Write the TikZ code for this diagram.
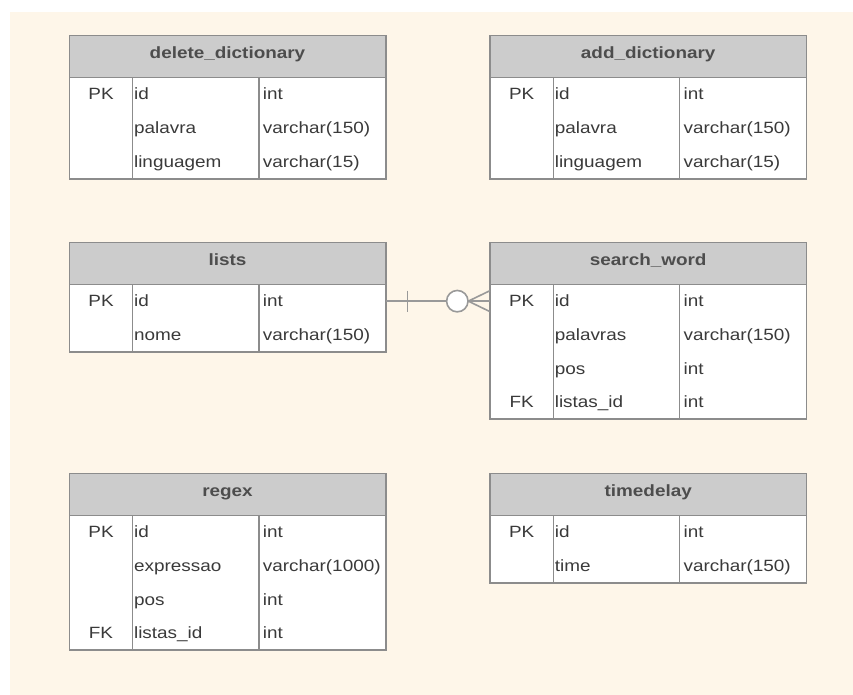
\documentclass[tikz,border=0pt]{standalone}
\usepackage{fontspec}
\setmainfont{Liberation Sans}[FakeStretch=1.16]
\definecolor{bgcream}{HTML}{FEF6E9}
\definecolor{hdrgray}{HTML}{CCCCCC}
\definecolor{linegray}{HTML}{8C8C8C}
\definecolor{conngray}{HTML}{999999}
\definecolor{txtgray}{HTML}{3A3A3A}
\definecolor{hdrtxt}{HTML}{4D4D4D}
\tikzset{
  tline/.style={draw=linegray, line width=1.5pt},
  tabframe/.style={draw=linegray, line width=1.6pt, inner sep=0pt, outer sep=0pt,
    minimum width=316.4pt, anchor=north west},
  hdrtext/.style={inner sep=0pt, text=hdrtxt, font=\fontsize{16.3pt}{19pt}\selectfont\bfseries, anchor=base},
  celltext/.style={inner sep=0pt, text=txtgray, font=\fontsize{16.3pt}{19pt}\selectfont},
  conn/.style={draw=conngray, line width=1.6pt},
}
\newcommand{\erdtable}[6]{%
  \pgfmathsetmacro{\tabH}{42+#5*33.7}%
  \fill[white] (#2,#3) rectangle ++(316.4,\tabH);
  \fill[hdrgray] (#2,#3) rectangle ++(316.4,42);
  \draw[tline] (#2,#3+42) -- ++(316.4,0);
  \draw[tline] (#2+63.4,#3+42) -- (#2+63.4,#3+\tabH);
  \draw[tline] (#2+189.7,#3+42) -- (#2+189.7,#3+\tabH);
  \node[tabframe, minimum height=\tabH pt] (#1) at (#2,#3) {};
  \node[hdrtext] (#1-title) at (#2+158.2,#3+23.3) {#4};
  \foreach \k/\f/\t [count=\i] in {#6} {
    \pgfmathsetmacro{\rb}{#3+42+(\i-1)*33.7+22.3}
    \pgfmathsetmacro{\rc}{#3+42+(\i-0.5)*33.7}
    \coordinate (#1-r\i) at (#2+158.2,\rc);
    \node[celltext, anchor=base] (#1-k\i) at (#2+31.7,\rb) {\k};
    \node[celltext, anchor=base west] (#1-f\i) at (#2+64.6,\rb) {\f};
    \node[celltext, anchor=base west] (#1-t\i) at (#2+193.4,\rb) {\t};
  }
}
\begin{document}
\begin{tikzpicture}[x=1pt,y=-1pt]
\useasboundingbox (0,0) rectangle (853,695);
\fill[white] (-5,-5) rectangle (860,700);
\fill[bgcream] (10,12) rectangle (860,700);

\erdtable{deld}{69.3}{35.7}{delete\_dictionary}{3}{PK/id/int, /palavra/varchar(150), /linguagem/varchar(15)}
\erdtable{addd}{490}{35.7}{add\_dictionary}{3}{PK/id/int, /palavra/varchar(150), /linguagem/varchar(15)}
\erdtable{lists}{69.3}{242.3}{lists}{2}{PK/id/int, /nome/varchar(150)}
\erdtable{sw}{490}{242.3}{search\_word}{4}{PK/id/int, /palavras/varchar(150), /pos/int, FK/listas\_id/int}
\erdtable{regex}{69.3}{473.3}{regex}{4}{PK/id/int, /expressao/varchar(1000), /pos/int, FK/listas\_id/int}
\erdtable{tdel}{490}{473.3}{timedelay}{2}{PK/id/int, /time/varchar(150)}

% relationship lists (one) -- search_word (zero or many)
\coordinate (ca) at (lists.east |- lists-r1);
\coordinate (cb) at (sw.west |- sw-r1);
\draw[conn] (ca) -- (cb);
\draw[conn] ([xshift=21.6pt,yshift=10.5pt]ca) -- ([xshift=21.6pt,yshift=-10.5pt]ca);
\draw[conn] ([xshift=-21.7pt]cb) -- ([yshift=10.5pt]cb);
\draw[conn] ([xshift=-21.7pt]cb) -- ([yshift=-10.5pt]cb);
\node[circle, conn, fill=white, minimum size=21.4pt, inner sep=0pt] (optc) at ([xshift=-32.7pt]cb) {};
\end{tikzpicture}
\end{document}
